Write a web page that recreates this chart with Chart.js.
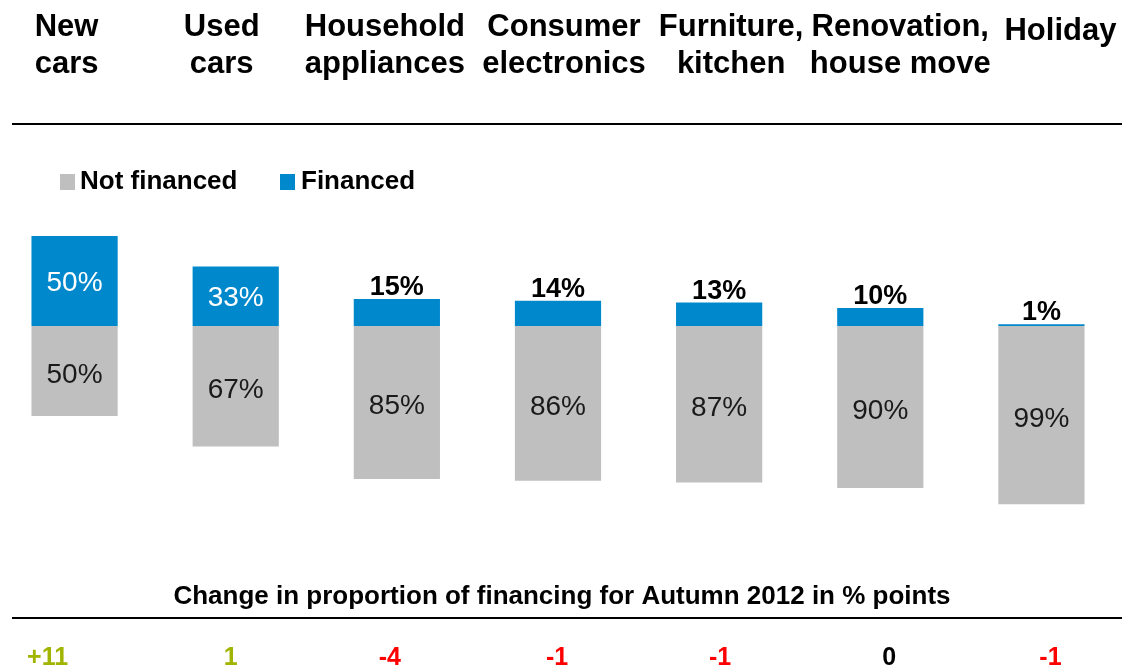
<!DOCTYPE html>
<html>
<head>
<meta charset="utf-8">
<script src="https://cdn.jsdelivr.net/npm/chart.js@4"></script>
<style>
  html, body { margin: 0; padding: 0; background: #fff; overflow: hidden; }
  #wrap { position: absolute; left: -6px; top: 0; width: 1128px; height: 668px; }
</style>
</head>
<body>
<div id="wrap"><canvas id="myChart" width="1128" height="668"></canvas></div>
<script>
// categories and shares (percent of purchases)
var categories = [
  ["New", "cars"],
  ["Used", "cars"],
  ["Household", "appliances"],
  ["Consumer", "electronics"],
  ["Furniture,", "kitchen"],
  ["Renovation,", "house move"],
  ["Holiday"]
];
var financed = [50, 33, 15, 14, 13, 10, 1];
var notFinanced = [50, 67, 85, 86, 87, 90, 99];
// change in financed share vs. Autumn 2012, in % points
var change = ["+11", "1", "-4", "-1", "-1", "0", "-1"];

var BLUE = '#0088CC';
var GREY = '#BFBFBF';
var FONT = '"Liberation Sans", Arial, sans-serif';

// small horizontal nudges so the header words don't run into each other
var headerNudge = [-8, -14, -12, 6, 12, 20, 19];
var changeNudge = [-27, -5, -7, -1, 1, 9, 9];

function changeColor(s) {
  var v = parseFloat(s);
  if (v > 0) return '#A0B400';
  if (v < 0) return '#FF0000';
  return '#000000';
}

var decorations = {
  id: 'decorations',
  afterDatasetsDraw: function(chart) {
    var ctx = chart.ctx;
    var x = chart.scales.x;
    ctx.save();
    ctx.translate(6, 0); // page coordinates

    // category headers
    ctx.fillStyle = '#000';
    ctx.font = 'bold 31px ' + FONT;
    ctx.textAlign = 'center';
    ctx.textBaseline = 'alphabetic';
    categories.forEach(function(lines, i) {
      var cx = x.getPixelForValue(i) - 6 + headerNudge[i];
      if (lines.length === 1) {
        ctx.fillText(lines[0], cx, 40);
      } else {
        ctx.fillText(lines[0], cx, 36);
        ctx.fillText(lines[1], cx, 73);
      }
    });

    // rules
    ctx.strokeStyle = '#000';
    ctx.lineWidth = 2;
    ctx.beginPath();
    ctx.moveTo(12, 124); ctx.lineTo(1122, 124);
    ctx.moveTo(12, 618); ctx.lineTo(1122, 618);
    ctx.stroke();

    // legend
    ctx.font = 'bold 26px ' + FONT;
    ctx.textAlign = 'left';
    ctx.textBaseline = 'middle';
    ctx.fillStyle = GREY;
    ctx.fillRect(60, 174, 15, 16);
    ctx.fillStyle = '#000';
    ctx.fillText('Not financed', 80, 182);
    ctx.fillStyle = BLUE;
    ctx.fillRect(280, 174, 15, 16);
    ctx.fillStyle = '#000';
    ctx.fillText('Financed', 301, 182);

    // change row
    ctx.textAlign = 'center';
    ctx.textBaseline = 'alphabetic';
    ctx.font = 'bold 26px ' + FONT;
    ctx.fillText('Change in proportion of financing for Autumn 2012 in % points', 562, 604);
    ctx.font = 'bold 25px ' + FONT;
    change.forEach(function(s, i) {
      ctx.fillStyle = changeColor(s);
      ctx.fillText(s, x.getPixelForValue(i) - 6 + changeNudge[i], 665);
    });
    ctx.restore();

    // value labels on the bars
    ctx.save();
    ctx.textAlign = 'center';
    var finMeta = chart.getDatasetMeta(1);
    finMeta.data.forEach(function(bar, i) {
      var v = financed[i];
      if (v >= 25) {
        ctx.fillStyle = '#fff';
        ctx.font = '28px ' + FONT;
        ctx.textBaseline = 'middle';
        ctx.fillText(v + '%', bar.x, (bar.y + bar.base) / 2 + 2);
      } else {
        ctx.fillStyle = '#000';
        ctx.font = 'bold 27px ' + FONT;
        ctx.textBaseline = 'alphabetic';
        ctx.fillText(v + '%', bar.x, bar.y - 4);
      }
    });
    var nfMeta = chart.getDatasetMeta(0);
    nfMeta.data.forEach(function(bar, i) {
      ctx.fillStyle = '#1a1a1a';
      ctx.font = '28px ' + FONT;
      ctx.textBaseline = 'middle';
      ctx.fillText(notFinanced[i] + '%', bar.x, (bar.y + bar.base) / 2 + 4);
    });
    ctx.restore();
  }
};

var ctx = document.getElementById('myChart').getContext('2d');
var chart = new Chart(ctx, {
  type: 'bar',
  data: {
    labels: categories,
    datasets: [{
      label: 'Not financed',
      backgroundColor: GREY,
      data: notFinanced.map(function(v) { return -v; })
    }, {
      label: 'Financed',
      backgroundColor: BLUE,
      data: financed
    }]
  },
  options: {
    responsive: false,
    animation: false,
    categoryPercentage: 1,
    barPercentage: 0.535,
    layout: { padding: { top: 227, bottom: 162, left: 0, right: 0 } },
    plugins: {
      legend: { display: false },
      tooltip: { enabled: false }
    },
    scales: {
      x: { stacked: true, display: false },
      y: { stacked: true, display: false, min: -100, max: 55 }
    }
  },
  plugins: [decorations]
});
</script>
</body>
</html>
